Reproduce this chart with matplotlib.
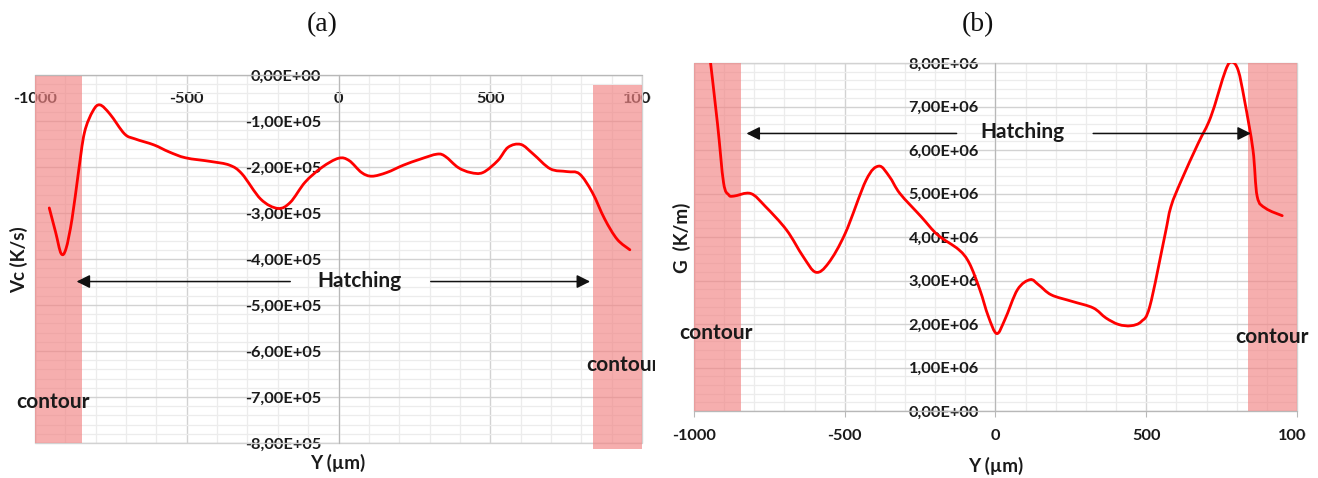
import numpy as np
import matplotlib
matplotlib.use("Agg")
import matplotlib.pyplot as plt
from matplotlib.path import Path
from matplotlib.patches import PathPatch, Rectangle
from matplotlib.ticker import MultipleLocator
from matplotlib.transforms import Bbox, TransformedBbox

# ---------------- data ----------------
# (a) cooling rate Vc along Y
vc_y = [-953, -932, -914, -898, -878, -857, -837, -809, -786, -753, -705, -670,
        -608, -559, -504, -421, -359, -318, -256, -200, -159, -110, -55, 0,
        35, 76, 110, 159, 214, 269, 325, 352, 394, 435, 476, 525, 559, 601,
        642, 698, 753, 794, 836, 877, 918, 960]
vc_val = [-2.89e5, -3.42e5, -3.88e5, -3.78e5, -3.13e5, -2.12e5, -1.25e5, -0.78e5,
          -0.65e5, -0.85e5, -1.28e5, -1.39e5, -1.52e5, -1.67e5, -1.80e5, -1.88e5,
          -1.96e5, -2.15e5, -2.70e5, -2.90e5, -2.77e5, -2.33e5, -2.01e5, -1.81e5,
          -1.86e5, -2.12e5, -2.20e5, -2.12e5, -1.96e5, -1.83e5, -1.72e5, -1.77e5,
          -2.01e5, -2.12e5, -2.12e5, -1.86e5, -1.57e5, -1.51e5, -1.72e5, -2.04e5,
          -2.10e5, -2.15e5, -2.55e5, -3.13e5, -3.57e5, -3.80e5]

# (b) thermal gradient G along Y
g_y = [-950, -922, -902, -885, -868, -812, -763, -693, -638, -596, -554, -498, -429,
       -387, -352, -317, -247, -192, -122, -87, -52, -24, 4, 31, 73, 115, 143,
       185, 254, 324, 366, 408, 449, 484, 512, 561, 582, 617, 672, 714, 763,
       784, 805, 826, 854, 868, 896, 951]
g_val = [8.30e6, 6.60e6, 5.25e6, 4.97e6, 4.94e6, 5.00e6, 4.70e6, 4.16e6, 3.55e6,
         3.19e6, 3.40e6, 4.09e6, 5.31e6, 5.63e6, 5.39e6, 5.00e6, 4.47e6, 4.05e6,
         3.71e6, 3.40e6, 2.79e6, 2.18e6, 1.78e6, 2.10e6, 2.79e6, 3.02e6, 2.90e6,
         2.67e6, 2.52e6, 2.37e6, 2.14e6, 1.99e6, 1.96e6, 2.06e6, 2.41e6, 4.01e6,
         4.70e6, 5.31e6, 6.15e6, 6.76e6, 7.83e6, 8.02e6, 7.83e6, 7.14e6, 6.00e6,
         4.93e6, 4.66e6, 4.49e6]

x_ticks = [-1000, -500, 0, 500, 1000]
x_tick_labels = ["-1000", "-500", "0", "500", "1000"]

a_y_ticks = [0, -1e5, -2e5, -3e5, -4e5, -5e5, -6e5, -7e5, -8e5]
a_y_tick_labels = ["0,00E+00", "-1,00E+05", "-2,00E+05", "-3,00E+05", "-4,00E+05",
                   "-5,00E+05", "-6,00E+05", "-7,00E+05", "-8,00E+05"]

b_y_ticks = [0, 1e6, 2e6, 3e6, 4e6, 5e6, 6e6, 7e6, 8e6]
b_y_tick_labels = ["0,00E+00", "1,00E+06", "2,00E+06", "3,00E+06", "4,00E+06",
                   "5,00E+06", "6,00E+06", "7,00E+06", "8,00E+06"]

# ---------------- style ----------------
W, H = 1318, 478
FONT = "Lato"
TXT = "#1a1a1a"
MAJ = "#d2d2d2"
MIN = "#ececec"
AXC = "#b8b8b8"
PINK = "#f28484"
TICK_FS = 11.8
NOTE_FS = 15
LABEL_FS = 13.5

fig = plt.figure(figsize=(W / 100, H / 100), dpi=100)
fig.patch.set_facecolor("white")


def px_axes(left, top, right, bottom):
    return fig.add_axes([left / W, 1 - bottom / H, (right - left) / W, (bottom - top) / H])


def smooth_path(xs, ys):
    pts = np.column_stack([xs, ys]).astype(float)
    n = len(pts)
    verts = [pts[0]]
    codes = [Path.MOVETO]
    for i in range(n - 1):
        p0 = pts[i - 1] if i > 0 else pts[i]
        p1, p2 = pts[i], pts[i + 1]
        p3 = pts[i + 2] if i + 2 < n else pts[i + 1]
        verts += [p1 + (p2 - p0) / 6, p2 - (p3 - p1) / 6, p2]
        codes += [Path.CURVE4] * 3
    return Path(verts, codes)


def clip_right(xpix):
    return TransformedBbox(Bbox([[0, 0], [xpix / W, 1]]), fig.transFigure)


def style_grid(ax, yminor):
    ax.xaxis.set_minor_locator(MultipleLocator(100))
    ax.yaxis.set_minor_locator(MultipleLocator(yminor))
    ax.grid(which="major", color=MAJ, lw=1.0)
    ax.grid(which="minor", color=MIN, lw=0.9)
    ax.set_axisbelow(True)
    ax.tick_params(which="minor", length=0)
    ax.add_patch(Rectangle((0, 0), 1, 1, transform=ax.transAxes, fill=False,
                           edgecolor=MAJ, lw=1.0, zorder=0.6, clip_on=False))
    for s in ("top", "right"):
        ax.spines[s].set_visible(False)


def style_ticklabels(ax, clip_x):
    for lab in ax.get_xticklabels() + ax.get_yticklabels():
        lab.set_fontfamily(FONT)
        lab.set_fontweight("bold")
        lab.set_fontsize(TICK_FS)
        lab.set_color(TXT)
    for lab in ax.get_xticklabels():
        lab.set_clip_box(clip_right(clip_x))
        lab.set_clip_on(True)


def hatching(ax, xl0, xl1, xr0, xr1, y, tx, ty):
    kw = dict(arrowstyle="-|>", mutation_scale=20, lw=1.1, color="#111111",
              shrinkA=0, shrinkB=0)
    ax.annotate("", xy=(xl1, y), xytext=(xl0, y), arrowprops=kw, zorder=4)
    ax.annotate("", xy=(xr1, y), xytext=(xr0, y), arrowprops=kw, zorder=4)
    ax.text(tx, ty, "Hatching", ha="center", va="center", fontsize=NOTE_FS,
            fontweight="bold", family=FONT, color=TXT, zorder=5)


def note(ax, x, y, s, ha="center", clip_x=None):
    t = ax.text(x, y, s, ha=ha, va="center", fontsize=NOTE_FS, fontweight="bold",
                family=FONT, color=TXT, zorder=5, clip_on=False)
    if clip_x is not None:
        t.set_clip_box(clip_right(clip_x))
        t.set_clip_on(True)
    return t


# ================= panel (a) =================
axa = px_axes(35, 75, 642, 443)
axa.set_xlim(-1000, 1000)
axa.set_ylim(-8e5, 0)
style_grid(axa, 2e4)
axa.spines["left"].set_position(("data", 0))
axa.spines["bottom"].set_position(("data", 0))
for s in ("left", "bottom"):
    axa.spines[s].set_color(AXC)
axa.set_xticks(x_ticks, x_tick_labels)
axa.set_yticks(a_y_ticks, a_y_tick_labels)
axa.tick_params(axis="x", which="major", length=0, pad=12)
axa.tick_params(axis="y", which="major", length=0, pad=12.5)
style_ticklabels(axa, 651)

axa.add_patch(Rectangle((-1000, -8e5), 155, 8e5, facecolor=PINK, alpha=0.66,
                        lw=0, zorder=1.5, clip_on=False))
axa.add_patch(Rectangle((838, -8.14e5), 162, 7.92e5, facecolor=PINK, alpha=0.66,
                        lw=0, zorder=1.5, clip_on=False))
axa.add_patch(PathPatch(smooth_path(vc_y, vc_val), fill=False, edgecolor="#ff0000",
                        lw=2.0, zorder=3, capstyle="round", joinstyle="round"))

hatching(axa, -159, -863, 304, 829, -4.49e5, 69, -4.47e5)
note(axa, -942, -7.1e5, "contour")
note(axa, 817, -6.3e5, "contour", ha="left", clip_x=655)

fig.text(19 / W, 1 - 260 / H, "Vc (K/s)", rotation=90, ha="center", va="center",
         fontsize=LABEL_FS, fontweight="bold", family=FONT, color=TXT)
fig.text(338 / W, 1 - 463 / H, "Y (µm)", ha="center", va="center",
         fontsize=LABEL_FS, fontweight="bold", family=FONT, color=TXT)
fig.text(322 / W, 1 - 25 / H, "(a)", ha="center", va="center", fontsize=20,
         family="Liberation Serif", color="#111111")

# ================= panel (b) =================
axb = px_axes(694, 63, 1297, 411)
axb.set_xlim(-1000, 1000)
axb.set_ylim(0, 8e6)
style_grid(axb, 2e5)
axb.spines["left"].set_position(("data", 0))
for s in ("left", "bottom"):
    axb.spines[s].set_color(AXC)
axb.set_xticks(x_ticks, x_tick_labels)
axb.set_yticks(b_y_ticks, b_y_tick_labels)
axb.tick_params(axis="x", which="major", length=4, color=AXC, pad=9)
axb.tick_params(axis="y", which="major", length=0, pad=12)
style_ticklabels(axb, 1306)

axb.add_patch(Rectangle((-1000, 0), 157, 8e6, facecolor=PINK, alpha=0.66,
                        lw=0, zorder=1.5))
axb.add_patch(Rectangle((837, 0), 163, 8e6, facecolor=PINK, alpha=0.66,
                        lw=0, zorder=1.5))
axb.add_patch(PathPatch(smooth_path(g_y, g_val), fill=False, edgecolor="#ff0000",
                        lw=2.0, zorder=3, capstyle="round", joinstyle="round"))

hatching(axb, -129, -826, 324, 847, 6.38e6, 91, 6.42e6)
note(axb, -927, 1.79e6, "contour")
note(axb, 917, 1.70e6, "contour")

fig.text(682 / W, 1 - 238 / H, "G  (K/m)", rotation=90, ha="center", va="center",
         fontsize=LABEL_FS, fontweight="bold", family=FONT, color=TXT)
fig.text(996 / W, 1 - 466 / H, "Y (µm)", ha="center", va="center",
         fontsize=LABEL_FS, fontweight="bold", family=FONT, color=TXT)
fig.text(978 / W, 1 - 25 / H, "(b)", ha="center", va="center", fontsize=20,
         family="Liberation Serif", color="#111111")

fig.savefig("out.png", dpi=100, facecolor="white")
